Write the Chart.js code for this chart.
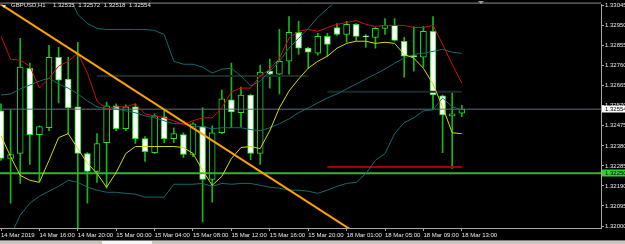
<!DOCTYPE html>
<html>
<head>
<meta charset="utf-8">
<script src="https://cdn.jsdelivr.net/npm/chart.js@4.4.1/dist/chart.umd.min.js"></script>
<style>
  html, body { margin: 0; padding: 0; background: #000; }
  #wrap { position: relative; width: 625px; height: 244px; overflow: hidden; background: #000; }
  #title {
    position: absolute; left: 11px; top: 2px;
    color: #e8e8e8; font: 6px "Liberation Sans", Arial, sans-serif;
    white-space: pre; word-spacing: 2px;
  }
  #icon {
    position: absolute; left: 2px; top: 5px; width: 0; height: 0;
    border-left: 2px solid transparent; border-right: 2px solid transparent;
    border-top: 3px solid #e8e8e8;
  }
  #shift {
    position: absolute; left: 478px; top: 1px; width: 0; height: 0;
    border-left: 3px solid transparent; border-right: 3px solid transparent;
    border-top: 3px solid #9aa0a8;
  }
  #strip { position: absolute; left: 0; top: 240px; width: 625px; height: 4px; background: #c8c4bc; border-top: 1px solid #7a7a7a; }
  #thumb { position: absolute; left: 102px; top: 0; width: 50px; height: 4px; background: #f4f4f4; }
</style>
</head>
<body>
<div id="wrap">
  <canvas id="chart" width="625" height="244"></canvas>
  <div id="icon"></div>
  <div id="title"></div>
  <div id="shift"></div>
  <div id="strip"><div id="thumb"></div></div>
</div>
<script>
const symbol = "GBPUSD,H1";

// time axis labels, one every 4 hourly bars
const timeLabels = ["14 Mar 2019", "14 Mar 16:00", "14 Mar 20:00", "15 Mar 00:00", "15 Mar 04:00",
  "15 Mar 08:00", "15 Mar 12:00", "15 Mar 16:00", "15 Mar 20:00", "18 Mar 01:00",
  "18 Mar 05:00", "18 Mar 09:00", "18 Mar 13:00"];
const timeTickBars = [0, 4, 8, 12, 16, 20, 24, 28, 32, 36, 40, 44, 48];

const priceTicks = [1.32000, 1.32095, 1.32190, 1.32285, 1.32380, 1.32475,
  1.32570, 1.32665, 1.32760, 1.32855, 1.32950, 1.33045];

// H1 candles (49 bars)
const opens = [1.32546, 1.32320, 1.32344, 1.32748, 1.32433, 1.32466, 1.32800, 1.32697, 1.32565, 1.32344,
  1.32259, 1.32395, 1.32570, 1.32461, 1.32565, 1.32414, 1.32348, 1.32518, 1.32414, 1.32433,
  1.32339, 1.32471, 1.32221, 1.32442, 1.32598, 1.32537, 1.32621, 1.32344, 1.32734, 1.32720,
  1.32781, 1.32918, 1.32843, 1.32819, 1.32899, 1.32941, 1.32908, 1.32956, 1.32899, 1.32894,
  1.32937, 1.32951, 1.32876, 1.32805, 1.32800, 1.32923, 1.32617, 1.32522, 1.32535];
const highs = [1.32579, 1.32551, 1.32890, 1.32772, 1.32475, 1.32857, 1.32847, 1.32800, 1.32871, 1.32348,
  1.32438, 1.32588, 1.32579, 1.32574, 1.32579, 1.32424, 1.32532, 1.32551, 1.32466, 1.32442,
  1.32490, 1.32560, 1.32475, 1.32645, 1.32772, 1.32659, 1.32626, 1.32763, 1.32791, 1.32932,
  1.32993, 1.32970, 1.32847, 1.32913, 1.32913, 1.32960, 1.32970, 1.32960, 1.32908, 1.32941,
  1.32984, 1.32984, 1.32894, 1.32946, 1.32946, 1.32993, 1.32621, 1.32631, 1.32572];
const lows = [1.32311, 1.32108, 1.32202, 1.32292, 1.32212, 1.32452, 1.32584, 1.32438, 1.31990, 1.32108,
  1.32207, 1.32179, 1.32452, 1.32452, 1.32391, 1.32306, 1.32344, 1.32395, 1.32395, 1.32325,
  1.32329, 1.32019, 1.32113, 1.32438, 1.32466, 1.32471, 1.32315, 1.32292, 1.32654, 1.32626,
  1.32720, 1.32814, 1.32748, 1.32810, 1.32805, 1.32904, 1.32871, 1.32880, 1.32847, 1.32843,
  1.32908, 1.32876, 1.32706, 1.32734, 1.32753, 1.32551, 1.32348, 1.32273, 1.32518];
const closes = [1.32320, 1.32339, 1.32753, 1.32433, 1.32471, 1.32800, 1.32692, 1.32560, 1.32344, 1.32259,
  1.32391, 1.32570, 1.32461, 1.32565, 1.32414, 1.32353, 1.32522, 1.32414, 1.32438, 1.32339,
  1.32485, 1.32221, 1.32442, 1.32603, 1.32541, 1.32621, 1.32344, 1.32730, 1.32720, 1.32781,
  1.32918, 1.32843, 1.32824, 1.32899, 1.32861, 1.32908, 1.32956, 1.32899, 1.32897, 1.32937,
  1.32951, 1.32880, 1.32805, 1.32803, 1.32923, 1.32621, 1.32527, 1.32532, 1.32554];

// bollinger bands
const bbUpper = [1.33262, 1.33252, 1.33252, 1.33243, 1.33233, 1.33233, 1.33196, 1.33101, 1.33003, 1.32960,
  1.32937, 1.32932, 1.32932, 1.32932, 1.32932, 1.32932, 1.32927, 1.32908, 1.32781, 1.32767,
  1.32767, 1.32753, 1.32725, 1.32744, 1.32748, 1.32711, 1.32664, 1.32687, 1.32734, 1.32781,
  1.32843, 1.32890, 1.32937, 1.32989, 1.33031, 1.33069, 1.33097, 1.33139, 1.33144, 1.33130,
  1.33144, 1.33106, 1.33101, 1.33116, 1.33092, 1.33106, 1.33078, 1.33083, 1.33087];
const bbMiddle = [1.32621, 1.32626, 1.32650, 1.32668, 1.32687, 1.32701, 1.32673, 1.32654, 1.32626, 1.32593,
  1.32565, 1.32555, 1.32555, 1.32546, 1.32537, 1.32522, 1.32513, 1.32499, 1.32485, 1.32485,
  1.32471, 1.32471, 1.32461, 1.32466, 1.32466, 1.32466, 1.32457, 1.32452, 1.32466, 1.32485,
  1.32508, 1.32537, 1.32560, 1.32584, 1.32607, 1.32626, 1.32650, 1.32673, 1.32697, 1.32720,
  1.32744, 1.32772, 1.32796, 1.32814, 1.32819, 1.32828, 1.32838, 1.32824, 1.32819];
const bbLower = [1.31864, 1.31953, 1.32052, 1.32108, 1.32141, 1.32165, 1.32188, 1.32217, 1.32207, 1.32184,
  1.32170, 1.32160, 1.32160, 1.32155, 1.32151, 1.32137, 1.32137, 1.32137, 1.32198, 1.32198,
  1.32198, 1.32202, 1.32188, 1.32202, 1.32198, 1.32202, 1.32202, 1.32193, 1.32184, 1.32179,
  1.32170, 1.32170, 1.32165, 1.32155, 1.32170, 1.32188, 1.32202, 1.32207, 1.32249, 1.32311,
  1.32344, 1.32438, 1.32490, 1.32513, 1.32546, 1.32551, 1.32607, 1.32565, 1.32551];

// moving averages
const maRed = [1.32899, 1.32791, 1.32786, 1.32758, 1.32654, 1.32701, 1.32758, 1.32781, 1.32819, 1.32725,
  1.32593, 1.32555, 1.32565, 1.32565, 1.32579, 1.32532, 1.32522, 1.32513, 1.32499, 1.32480,
  1.32499, 1.32513, 1.32513, 1.32560, 1.32636, 1.32654, 1.32654, 1.32711, 1.32744, 1.32796,
  1.32890, 1.32923, 1.32932, 1.32923, 1.32941, 1.32956, 1.32965, 1.32974, 1.32956, 1.32946,
  1.32951, 1.32951, 1.32951, 1.32941, 1.32941, 1.32951, 1.32861, 1.32767, 1.32678];
const maYellow = [1.32428, 1.32329, 1.32240, 1.32217, 1.32207, 1.32311, 1.32419, 1.32438, 1.32367, 1.32297,
  1.32249, 1.32184, 1.32254, 1.32344, 1.32377, 1.32377, 1.32377, 1.32377, 1.32377, 1.32372,
  1.32344, 1.32264, 1.32193, 1.32235, 1.32320, 1.32372, 1.32377, 1.32367, 1.32452, 1.32560,
  1.32640, 1.32697, 1.32748, 1.32781, 1.32805, 1.32843, 1.32866, 1.32876, 1.32876, 1.32866,
  1.32871, 1.32866, 1.32814, 1.32796, 1.32748, 1.32673, 1.32565, 1.32442, 1.32438];

// drawn objects: [fromBar, toBar, price]
const supportLevel = 1.32250;
const redSegment = [34, 48, 1.32280];
const graySegments = [[10, 32, 1.32711], [34, 48, 1.32636]];
const trendLine = [[-1, 1.33080], [40, 1.31878]];

const lastBar = closes.length - 1;
const bid = closes[lastBar];

document.getElementById("title").textContent =
  symbol + "  " + [opens[lastBar], highs[lastBar], lows[lastBar], closes[lastBar]].map(v => v.toFixed(5)).join(" ");

const bars = closes.map((c, i) => i);
const seg = (a, b, y) => [{ x: a, y: y }, { x: b, y: y }];
const series = arr => arr.map((v, i) => ({ x: i, y: v }));
const lineDs = (data, color, width, order) => ({
  type: "line", data: data, borderColor: color, borderWidth: width,
  pointRadius: 0, tension: 0, fill: false, order: order,
});

const mtPlugin = {
  id: "mtOverlay",
  beforeDraw(chart) {
    const ctx = chart.ctx;
    ctx.save();
    ctx.fillStyle = "#000";
    ctx.fillRect(0, 0, chart.width, chart.height);
    ctx.restore();
  },
  afterDraw(chart) {
    const { ctx, chartArea } = chart;
    const y = chart.scales.y;
    ctx.save();
    ctx.strokeStyle = "#8c8c8c";
    ctx.lineWidth = 1;
    ctx.beginPath();
    ctx.moveTo(0, chartArea.top - 1.5);
    ctx.lineTo(chartArea.right, chartArea.top - 1.5);
    ctx.stroke();

    const box = (value, bg) => {
      const py = Math.round(y.getPixelForValue(value));
      ctx.fillStyle = bg;
      ctx.fillRect(chartArea.right + 1, py - 3.5, chart.width - chartArea.right - 1, 7);
      ctx.fillStyle = "#000";
      ctx.font = '6px "Liberation Sans", Arial, sans-serif';
      ctx.textBaseline = "middle";
      ctx.fillText(value.toFixed(5), chartArea.right + 4, py + 0.5);
    };
    box(bid, "#ffffff");
    box(supportLevel, "#2fd02f");
    ctx.restore();
  },
};

new Chart(document.getElementById("chart"), {
  type: "bar",
  data: {
    datasets: [
      lineDs(series(maRed), "#d40c0c", 1, 1),
      lineDs(series(maYellow), "#d8d800", 1, 1),
      lineDs(series(bbUpper), "#146a6e", 1, 1),
      lineDs(series(bbMiddle), "#146a6e", 1, 1),
      lineDs(series(bbLower), "#146a6e", 1, 1),
      lineDs(trendLine.map(p => ({ x: p[0], y: p[1] })), "#ffa200", 2, 0),
      lineDs(seg(-2, 70, supportLevel), "#36b236", 2, 2),
      lineDs(seg(redSegment[0], redSegment[1], redSegment[2]), "#a80000", 2, 2),
      lineDs(seg(graySegments[0][0], graySegments[0][1], graySegments[0][2]), "#1a2929", 2, 2),
      lineDs(seg(graySegments[1][0], graySegments[1][1], graySegments[1][2]), "#1a2929", 2, 2),
      lineDs(seg(-2, 70, bid), "#5e6c7a", 1, 2),
      {
        type: "bar",
        data: bars.map(i => ({ x: i, y: [opens[i], closes[i]] })),
        backgroundColor: bars.map(i => (closes[i] >= opens[i] ? "#000000" : "#ffffff")),
        borderColor: "#1ee61e",
        borderWidth: 1,
        borderSkipped: false,
        barThickness: 6,
        minBarLength: 1,
        grouped: false,
        order: 3,
      },
      {
        type: "bar",
        data: bars.map(i => ({ x: i, y: [lows[i], highs[i]] })),
        backgroundColor: "#16b816",
        borderWidth: 0,
        barThickness: 1,
        grouped: false,
        order: 4,
      },
    ],
  },
  options: {
    responsive: false,
    animation: false,
    devicePixelRatio: 1,
    layout: { padding: { top: 3, left: 0, right: 0, bottom: 5 } },
    plugins: { legend: { display: false }, tooltip: { enabled: false } },
    scales: {
      x: {
        type: "linear",
        offset: false,
        min: -0.104,
        max: 62.5,
        afterBuildTicks: scale => { scale.ticks = timeTickBars.map(v => ({ value: v })); },
        afterFit: scale => { scale.height = 11; },
        ticks: {
          autoSkip: false,
          maxRotation: 0,
          align: "start",
          padding: 1,
          color: "#e8e8e8",
          font: { family: "Liberation Sans", size: 6 },
          callback: v => timeLabels[timeTickBars.indexOf(v)],
        },
        grid: { drawOnChartArea: false, offset: false, tickLength: 3, color: "#a8a8a8" },
        border: { color: "#a8a8a8" },
      },
      y: {
        position: "right",
        min: 1.319906,
        max: 1.330497,
        afterBuildTicks: scale => { scale.ticks = priceTicks.map(v => ({ value: v })); },
        afterFit: scale => { scale.width = 24; },
        ticks: {
          autoSkip: false,
          padding: 1,
          color: "#e8e8e8",
          font: { family: "Liberation Sans", size: 6 },
          callback: v => v.toFixed(5),
        },
        grid: { drawOnChartArea: false, tickLength: 3, color: "#a8a8a8" },
        border: { color: "#a8a8a8" },
      },
    },
  },
  plugins: [mtPlugin],
});
</script>
</body>
</html>
